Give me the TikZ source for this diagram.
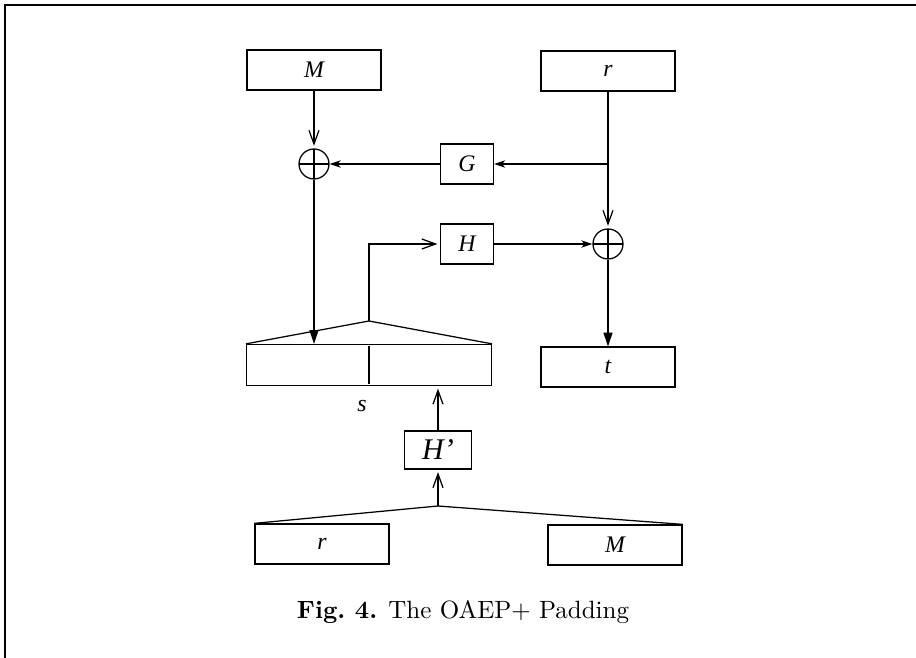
\documentclass[tikz,border=0pt]{standalone}
\usepackage{fontspec}
\newfontfamily\tms{Liberation Serif}
\usetikzlibrary{arrows.meta}

\tikzset{
  box/.style={draw, inner sep=0pt, font=\tms\itshape\fontsize{9.5}{9.5}\selectfont},
  wide/.style={minimum width=53.6pt, minimum height=16pt},
  small/.style={minimum width=21.2pt, minimum height=16pt},
  xorc/.style={circle, draw, minimum size=12pt, inner sep=0pt,
    path picture={\draw (path picture bounding box.north) -- (path picture bounding box.south)
      (path picture bounding box.west) -- (path picture bounding box.east);}},
  vee/.style={-{Straight Barb[length=5.5pt,width=4pt]}, shorten >=1pt},
  barb/.style={-{Stealth[length=4.5pt,width=3pt,inset=1.4pt]}},
  tri/.style={-{Triangle[length=5.5pt,width=3.6pt]}},
}

\begin{document}
\begin{tikzpicture}[x=0.4pt,y=0.4pt,yscale=-1,line width=0.5pt]
        \useasboundingbox (0,0) rectangle (916,658);
        %Frame
        \draw[line width=0.8pt] (916,5) -- (5,5) -- (5,658);
        %Shape: top blocks
        \node (M) at (314,70) [box,wide] {M};
        \node (r) at (608,71) [box,wide] {r};
        \node (x1) at (314,164) [xorc] {};
        \node (x2) at (608,244) [xorc] {};
        \node (G) at (467,164) [box,small] {G};
        \node (H) at (467,244) [box,small] {H};
        \node (t) at (608,367) [box,wide] {t};
        %Shape: the block s
        \node (s) at (369,365) [box,minimum width=98pt,minimum height=16.4pt] {};
        \draw ([yshift=1pt]s.north) -- ([yshift=-1pt]s.south);
        \coordinate (sTop) at (369,321);
        %Straight Lines
        \draw[vee] (M) -- (x1);
        \draw[vee] (r) -- (x2);
        \coordinate (rG) at (r |- G);
        \draw[barb] (rG) -- (G);
        \draw[barb] (G) -- (x1);
        \draw[barb] (H) -- (x2);
        \draw[tri] (x2) -- (t);
        \draw[tri] (x1) -- (x1 |- s.north);
        \draw (s.north west) -- (sTop) -- (s.north east);
        \draw[vee] (sTop) |- (H);
        %Shape: bottom blocks
        \node (Hp) at (438,450) [box,minimum width=26.8pt,minimum height=15.2pt,font=\tms\itshape\fontsize{12}{12}\selectfont] {H’};
        \node (rb) at (322,544) [box,wide] {r};
        \node (Mb) at (615,545) [box,wide] {M};
        \coordinate (bTop) at (438,506);
        \draw (rb.north west) -- (bTop) -- (Mb.north east);
        \draw[vee] (bTop) -- (Hp);
        \draw[vee] (Hp) -- (Hp |- s.south);
        % Text Node
        \node (sl) at (362,406) [font=\tms\itshape\fontsize{9.5}{9.5}\selectfont] {s};
        \node (cap) at (463,612) {\textbf{Fig.\ 4.} The OAEP+ Padding};
\end{tikzpicture}
\end{document}
